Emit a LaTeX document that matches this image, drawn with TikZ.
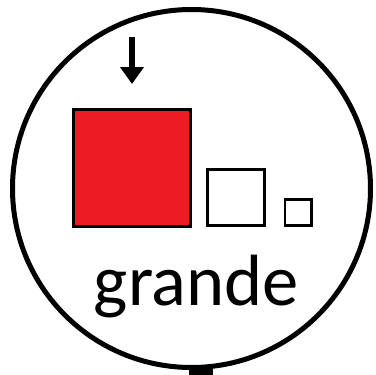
\documentclass[tikz,border=0pt]{standalone}
\usepackage{fontspec}
\setmainfont{Carlito}
\usetikzlibrary{arrows.meta}
\definecolor{bigred}{HTML}{ED1C24}
\begin{document}
\begin{tikzpicture}[x=1pt,y=-1pt,
  sq/.style={draw=black,line width=2.8pt,fill=white},
  lbl/.style={font=\fontsize{72.6}{80}\selectfont,anchor=base,inner sep=0pt}]
\useasboundingbox (0,0) rectangle (376,375);
\node[draw=black,line width=5pt,circle,minimum size=358pt,inner sep=0pt] (ring) at (191.5,188.5) {};
\fill[black] (189,366) rectangle (213,375);
\draw[line width=3pt,fill=bigred] (73.5,109.5) rectangle (190.5,226.5);
\coordinate (big) at (132,84);
\draw[sq] (207.5,169.5) rectangle (264.5,225.5);
\draw[sq] (285,199.5) rectangle (311.5,225.5);
\coordinate (atop) at (132,37);
\draw[line width=5.5pt,-{Triangle[width=23pt,length=17pt]}] (atop) -- (big);
\node[lbl] (word) at (196.5,305) {grande};
\end{tikzpicture}
\end{document}
